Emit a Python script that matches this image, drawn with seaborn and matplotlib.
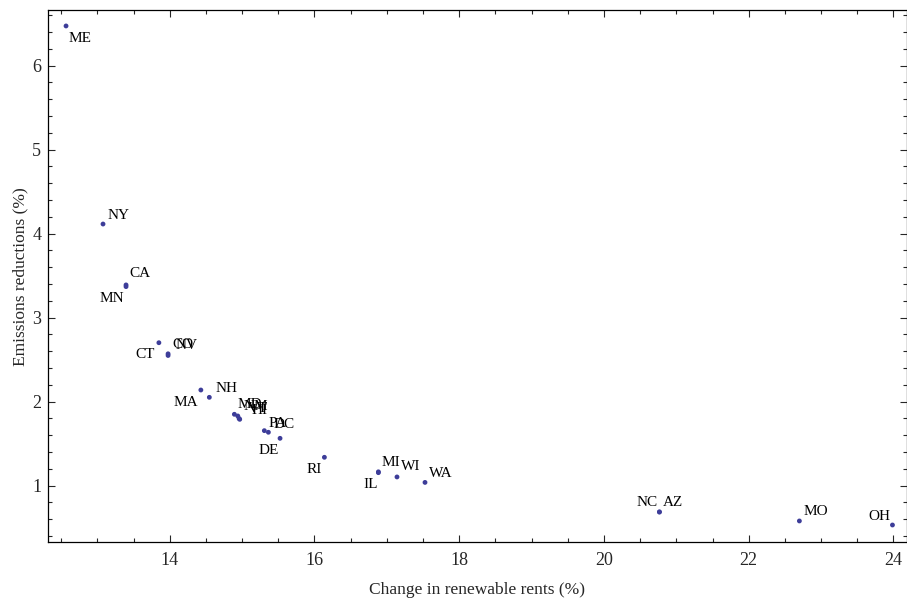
import matplotlib
matplotlib.use("Agg")
import matplotlib.pyplot as plt
import seaborn as sns
import pandas as pd
from matplotlib.ticker import MultipleLocator

states = ["ME", "NY", "CA", "MN", "CT", "CO", "NV", "MA", "NH",
          "MD", "NM", "VT", "HI", "PA", "DE", "DC", "RI", "MI", "IL",
          "WI", "WA", "NC", "AZ", "MO", "OH"]
rent_change = [12.567, 13.078, 13.396, 13.396, 13.85, 13.977, 13.977, 14.43, 14.547,
               14.893, 14.940, 14.958, 14.967, 15.307, 15.363, 15.524, 16.137, 16.883, 16.883,
               17.14, 17.527, 20.766, 20.766, 22.70, 23.986]
emis_red = [6.473, 4.115, 3.39, 3.37, 2.702, 2.57, 2.55, 2.139, 2.052,
            1.85, 1.83, 1.80, 1.79, 1.655, 1.636, 1.564, 1.338, 1.165, 1.155,
            1.104, 1.039, 0.687, 0.687, 0.58, 0.532]

# label offsets in pixels (dx, dy) and horizontal alignment
label_style = {
    "ME": (2, -13, "left"), "NY": (5, 9, "left"), "CA": (3, 11, "left"),
    "MN": (-2, -12, "right"), "CT": (-4, -12, "right"), "CO": (4, 9, "left"),
    "NV": (7, 10, "left"), "MA": (-3, -12, "right"), "NH": (6, 9, "left"),
    "MD": (3, 10, "left"), "NM": (6, 9, "left"), "VT": (9, 10, "left"),
    "HI": (12, 9, "left"), "PA": (4, 7, "left"), "DE": (0, -18, "center"),
    "DC": (-7, 14, "left"), "RI": (-2, -12, "right"), "MI": (3, 9, "left"),
    "IL": (0, -12, "right"), "WI": (4, 10, "left"), "WA": (4, 9, "left"),
    "NC": (-2, 9, "right"), "AZ": (3, 9, "left"), "MO": (4, 9, "left"),
    "OH": (-2, 8, "right"),
}

df = pd.DataFrame({"state": states, "x": rent_change, "y": emis_red})

sns.set_style("ticks")
plt.rcParams["font.family"] = ["Liberation Serif", "DejaVu Serif"]
plt.rcParams["mathtext.fontset"] = "stix"

fig = plt.figure(figsize=(9.07, 6.01), dpi=100)
ax = fig.add_axes([48.3 / 907, 1 - 542.3 / 601, (906.5 - 48.3) / 907, (542.3 - 10) / 601])

sns.scatterplot(data=df, x="x", y="y", ax=ax, color="#3d3d99", s=12,
                edgecolor="none", legend=False, zorder=3)

for st, xv, yv in zip(states, rent_change, emis_red):
    dx, dy, ha = label_style[st]
    ax.annotate(st, (xv, yv), xytext=(dx, dy), textcoords="offset pixels",
                ha=ha, va="center", fontsize=11, color="black")

ax.set_xlim(12.322, 24.18)
ax.set_ylim(0.326, 6.663)
ax.xaxis.set_major_locator(MultipleLocator(2))
ax.xaxis.set_minor_locator(MultipleLocator(0.5))
ax.yaxis.set_major_locator(MultipleLocator(1))
ax.yaxis.set_minor_locator(MultipleLocator(0.2))
ax.tick_params(which="both", direction="in", top=True, right=True,
               labeltop=False, labelright=False, labelsize=13, width=0.8)
ax.tick_params(axis="x", which="major", pad=7)
ax.tick_params(axis="y", which="major", pad=5)
ax.tick_params(which="major", length=5)
ax.tick_params(which="minor", length=3)
for sp in ax.spines.values():
    sp.set_linewidth(0.9)
    sp.set_color("black")

ax.set_xlabel("Change in renewable rents (%)", fontsize=12.5, labelpad=9)
ax.set_ylabel("Emissions reductions (%)", fontsize=12.5, labelpad=3)

fig.savefig("out.png", dpi=100)
